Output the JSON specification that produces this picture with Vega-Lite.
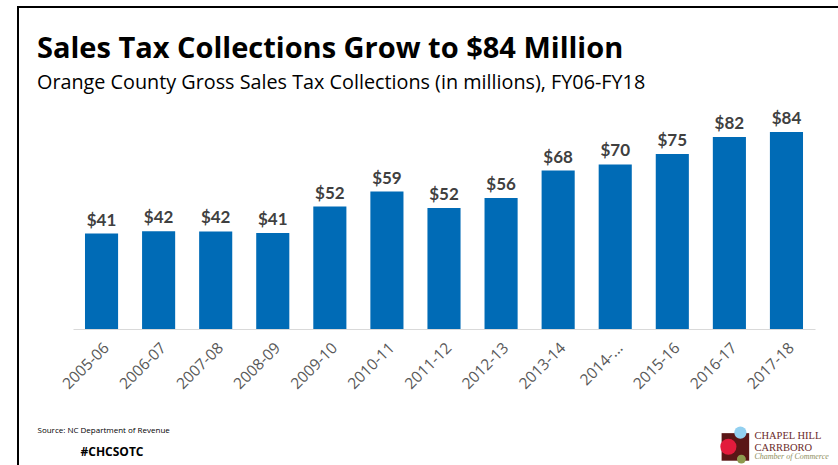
{
  "$schema": "https://vega.github.io/schema/vega-lite/v6.json",
  "width": 822,
  "height": 460,
  "autosize": "none",
  "padding": {"left": 18, "top": 7, "right": 0, "bottom": 0},
  "background": "white",
  "view": {"stroke": "black", "strokeWidth": 2, "fill": "white"},
  "title": {
    "text": "Sales Tax Collections Grow to $84 Million",
    "subtitle": "Orange County Gross Sales Tax Collections (in millions), FY06-FY18",
    "anchor": "start",
    "frame": "group",
    "font": "Open Sans",
    "fontSize": 29,
    "fontWeight": "bold",
    "color": "black",
    "subtitleFont": "Open Sans",
    "subtitleFontSize": 19.8,
    "subtitleColor": "black",
    "subtitlePadding": 9,
    "offset": 0,
    "dx": 19,
    "dy": 86
  },
  "layer": [
    {
      "data": {
        "values": [
          {"year": "2005-06", "value": 40.7},
          {"year": "2006-07", "value": 41.7},
          {"year": "2007-08", "value": 41.6},
          {"year": "2008-09", "value": 41.0},
          {"year": "2009-10", "value": 52.2},
          {"year": "2010-11", "value": 58.6},
          {"year": "2011-12", "value": 51.6},
          {"year": "2012-13", "value": 55.9},
          {"year": "2013-14", "value": 67.6},
          {"year": "2014-15", "value": 70.2},
          {"year": "2015-16", "value": 74.6},
          {"year": "2016-17", "value": 81.9},
          {"year": "2017-18", "value": 84.0}
        ]
      },
      "encoding": {
        "x": {
          "field": "year",
          "type": "nominal",
          "sort": null,
          "scale": {"range": [55, 797], "paddingInner": 0.42, "paddingOuter": 0.21},
          "axis": {
            "orient": "bottom",
            "offset": -138,
            "labelAngle": -45,
            "labelFont": "Open Sans",
            "labelFontSize": 15.5,
            "labelColor": "#595959",
            "labelPadding": 11,
            "labelExpr": "datum.value == '2014-15' ? '2014-...' : datum.value",
            "ticks": false,
            "domainColor": "#d9d9d9",
            "domainWidth": 1,
            "grid": false,
            "title": "#CHCSOTC",
            "titleX": 62,
            "titleY": 126,
            "titleAlign": "left",
            "titleBaseline": "alphabetic",
            "titleFont": "Open Sans",
            "titleFontSize": 12,
            "titleFontWeight": "bold",
            "titleColor": "black"
          }
        },
        "y": {
          "field": "value",
          "type": "quantitative",
          "scale": {"domain": [0, 90], "range": [322, 111], "nice": false, "zero": false},
          "axis": {
            "domain": false,
            "ticks": false,
            "labels": false,
            "grid": false,
            "title": "Source: NC Department of Revenue",
            "titleAngle": 0,
            "titleX": 19,
            "titleY": 425,
            "titleAlign": "left",
            "titleBaseline": "alphabetic",
            "titleFont": "Open Sans",
            "titleFontSize": 8,
            "titleFontWeight": "normal",
            "titleColor": "black"
          }
        }
      },
      "layer": [
        {"mark": {"type": "bar", "color": "#006bb6"}},
        {
          "mark": {
            "type": "text",
            "baseline": "alphabetic",
            "dy": -8,
            "font": "Lato",
            "fontSize": 17,
            "fontWeight": "bold",
            "color": "#404040"
          },
          "encoding": {"text": {"field": "value", "type": "quantitative", "format": "$.0f"}}
        }
      ]
    },
    {
      "data": {"values": [{"part": "square"}]},
      "mark": {"type": "square", "size": 760, "color": "#5a1616", "opacity": 1, "xOffset": 6},
      "encoding": {"x": {"datum": "2016-17"}, "y": {"datum": -50.3}}
    },
    {
      "data": {"values": [{"part": "red"}]},
      "mark": {"type": "circle", "size": 260, "color": "#e21b3c", "opacity": 1, "xOffset": -1},
      "encoding": {"x": {"datum": "2016-17"}, "y": {"datum": -50.2}}
    },
    {
      "data": {"values": [{"part": "blue"}]},
      "mark": {"type": "circle", "size": 150, "color": "#92d0f0", "opacity": 1, "xOffset": 11},
      "encoding": {"x": {"datum": "2016-17"}, "y": {"datum": -44.2}}
    },
    {
      "data": {"values": [{"part": "olive"}]},
      "mark": {"type": "circle", "size": 80, "color": "#8d9a4e", "opacity": 1, "xOffset": 12},
      "encoding": {"x": {"datum": "2016-17"}, "y": {"datum": -55.5}}
    },
    {
      "data": {"values": [{"label": "CHAPEL HILL\nCARRBORO"}]},
      "mark": {
        "type": "text",
        "align": "left",
        "baseline": "alphabetic",
        "dx": 25,
        "lineBreak": "\n",
        "lineHeight": 11.7,
        "font": "Liberation Serif",
        "fontSize": 10.5,
        "color": "#6b2a2a"
      },
      "encoding": {"x": {"datum": "2016-17"}, "y": {"datum": -46.9}, "text": {"field": "label"}}
    },
    {
      "data": {"values": [{"label": "Chamber of Commerce"}]},
      "mark": {
        "type": "text",
        "align": "left",
        "baseline": "alphabetic",
        "dx": 25,
        "font": "Liberation Serif",
        "fontSize": 8,
        "fontStyle": "italic",
        "color": "#8e8e5c"
      },
      "encoding": {"x": {"datum": "2016-17"}, "y": {"datum": -55.5}, "text": {"field": "label"}}
    }
  ]
}
